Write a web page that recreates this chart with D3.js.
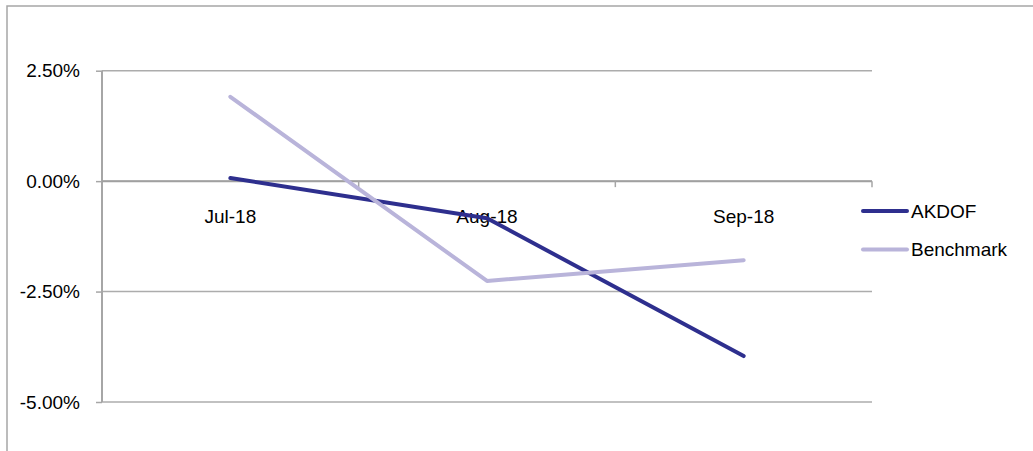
<!DOCTYPE html>
<html><head><meta charset="utf-8">
<script src="https://cdn.jsdelivr.net/npm/d3@7"></script>
<style>
html,body{margin:0;padding:0;background:#fff;}
svg{display:block;}
text{font-family:"Liberation Sans",Arial,sans-serif;fill:#000;}
</style></head>
<body>
<svg id="chart" width="1033" height="451"></svg>
<script>
const categories = ["Jul-18", "Aug-18", "Sep-18"];
const akdof = [0.0007, -0.0084, -0.0396];
const benchmark = [0.0191, -0.0226, -0.0179];
const yTicks = [-0.05, -0.025, 0, 0.025];
const seriesNames = ["AKDOF", "Benchmark"];
const seriesColors = ["#2e2f8e", "#b9b4da"];

(function () {
const svg = d3.select("#chart");
const W = 1033, H = 451;
const pLeft = 102, pRight = 872, pTop = 70.7, pBottom = 402;
const fs = "19px";

// outer frame
svg.append("rect").attr("x", 7).attr("y", 6).attr("width", W + 10).attr("height", H + 10)
  .attr("fill", "none").attr("stroke", "#a6a6a6").attr("stroke-width", 1.5);

const x = d3.scaleBand().domain(categories).range([pLeft, pRight]).padding(0);
const y = d3.scaleLinear().domain([-0.05, 0.025]).range([pBottom, pTop]);

const locale = d3.formatLocale({decimal: ".", thousands: ",", grouping: [3], currency: ["$", ""], minus: "-", percent: "%"});
const fmt = locale.format(".2%");

// gridlines
svg.append("g").selectAll("line").data(yTicks).join("line")
  .attr("x1", pLeft).attr("x2", pRight)
  .attr("y1", d => y(d)).attr("y2", d => y(d))
  .attr("stroke", "#acacac").attr("stroke-width", 1.5);

// y axis
const yAxis = svg.append("g").attr("transform", `translate(${pLeft},0)`)
  .call(d3.axisLeft(y).tickValues(yTicks).tickFormat(fmt).tickSize(6).tickPadding(16));
yAxis.select(".domain").attr("stroke", "#a6a6a6").attr("stroke-width", 2)
  .attr("d", `M0,${pTop}V${pBottom}`);
yAxis.selectAll(".tick line").attr("stroke", "#a6a6a6").attr("stroke-width", 1.5);
yAxis.selectAll(".tick text").style("font-size", fs).attr("fill", "#000")
  .style("font-family", '"Liberation Sans",Arial,sans-serif');

// category axis at zero
const xAxis = svg.append("g").attr("transform", `translate(0,${y(0)})`)
  .call(d3.axisBottom(x).tickSize(0).tickPadding(28));
xAxis.select(".domain").attr("stroke", "#a0a0a0").attr("stroke-width", 2)
  .attr("d", `M${pLeft},0H${pRight}`);
xAxis.selectAll(".tick text").style("font-size", fs).attr("fill", "#000")
  .style("font-family", '"Liberation Sans",Arial,sans-serif');
// boundary tick marks
const bounds = d3.range(categories.length + 1).map(i => pLeft + i * x.step());
xAxis.append("g").selectAll("line").data(bounds.slice(1)).join("line")
  .attr("x1", d => d).attr("x2", d => d).attr("y1", 0).attr("y2", 6)
  .attr("stroke", "#a6a6a6").attr("stroke-width", 1.5);

// lines
const line = d3.line().x((d, i) => x(categories[i]) + x.bandwidth() / 2).y(d => y(d));
[akdof, benchmark].forEach((s, i) => {
  svg.append("path").datum(s).attr("d", line)
    .attr("fill", "none").attr("stroke", seriesColors[i]).attr("stroke-width", 4)
    .attr("stroke-linecap", "round").attr("stroke-linejoin", "round");
});

// legend
const lg = svg.append("g");
seriesNames.forEach((n, i) => {
  const ly = 211 + i * 38.5;
  lg.append("line").attr("x1", 863).attr("x2", 907).attr("y1", ly).attr("y2", ly)
    .attr("stroke", seriesColors[i]).attr("stroke-width", 4).attr("stroke-linecap", "round");
  lg.append("text").attr("x", 911).attr("y", ly).attr("dy", "0.35em")
    .style("font-size", fs).text(n);
});
})();
</script>
</body></html>
